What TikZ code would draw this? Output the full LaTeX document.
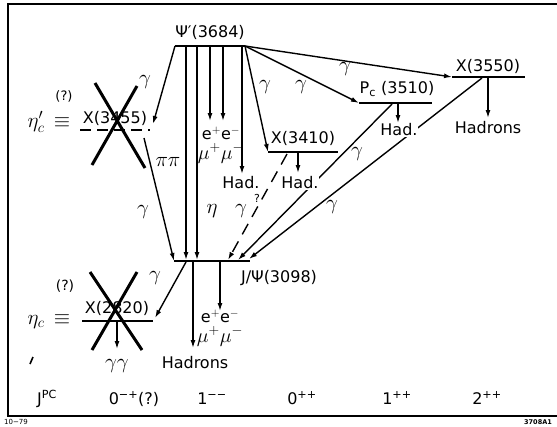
\documentclass[tikz,border=0pt]{standalone}
\usepackage{fix-cm}
\usepackage{fontspec}
\setmainfont{DejaVu Sans}
\usetikzlibrary{arrows.meta}

\begin{document}
\begin{tikzpicture}[x=1pt,y=-1pt,
		level/.style={line width=2.2pt},
		decay/.style={line width=1.4pt,-{Latex[length=8pt,width=5pt]}},
		veto/.style={line width=3pt},
		lbl/.style={inner sep=0.5pt,font=\fontsize{16}{18}\selectfont},
		greek/.style={inner sep=0.5pt,font=\fontsize{21}{22}\selectfont},
		gap/.style={lbl,fill=white}]
	\useasboundingbox (0,0) rectangle (557,426);
	% Frame
	\draw[line width=1.6pt] (557,4) -- (8,4) -- (8,416) -- (557,416);
	\node[inner sep=0pt,font=\fontsize{7}{8}\selectfont] (date) at (16,422) {10−79};
	\node[inner sep=0pt,font=\fontsize{6.5}{7}\selectfont\bfseries] (fig) at (538,422) {3708A1};

	% Levels
	\coordinate (psiL) at (175,46);  \coordinate (psiR) at (245,46);
	\coordinate (xcbL) at (452,77);  \coordinate (xcbR) at (525,77);
	\coordinate (pcL) at (359,103);  \coordinate (pcR) at (432,103);
	\coordinate (xcaL) at (268,152); \coordinate (xcaR) at (338,152);
	\coordinate (etapL) at (80,130); \coordinate (etapR) at (150,130);
	\coordinate (jpsiL) at (174,261); \coordinate (jpsiR) at (250,261);
	\coordinate (etacL) at (82,321); \coordinate (etacR) at (153,321);
	\draw[level] (psiL) -- (psiR);
	\draw[level] (xcbL) -- (xcbR);
	\draw[level] (pcL) -- (pcR);
	\draw[level] (xcaL) -- (xcaR);
	\draw[level,dash pattern=on 11pt off 6pt] (etapL) -- (etapR);
	\draw[level] (jpsiL) -- (jpsiR);
	\draw[level] (etacL) -- (etacR);

	\node[lbl] (psiT) at (210,32) {Ψ′(3684)};
	\node[lbl] (xcbT) at (488,66) {X(3550)};
	\node[lbl] (pcT) at (397,89) {P\textsubscript{c} (3510)};
	\node[lbl] (xcaT) at (303,138) {X(3410)};
	\node[lbl] (etapT) at (115,118) {X(3455)};
	\node[greek,anchor=base] (etapN) at (49,127) {$\eta_c'\,\equiv$};
	\node[lbl,font=\fontsize{13}{14}\selectfont] (etapQ) at (64,96) {(?)};
	\node[lbl] (jpsiT) at (279,278) {J/Ψ(3098)};
	\node[lbl] (etacT) at (117,308) {X(2820)};
	\node[greek,anchor=base] (etacN) at (49,324) {$\eta_c\,\equiv$};
	\node[lbl,font=\fontsize{14}{15}\selectfont] (etacQ) at (65,286) {(?)};

	% Psi' decays
	\coordinate (psiPP) at (186,46);   \coordinate (jpsiPP) at (186,260);
	\coordinate (psiEta) at (197,46);  \coordinate (jpsiEta) at (197,260);
	\coordinate (psiEa) at (210,46);   \coordinate (psiEaEnd) at (210,121);
	\coordinate (psiEb) at (223,46);   \coordinate (psiEbEnd) at (223,121);
	\coordinate (psiH) at (242,46);    \coordinate (psiHEnd) at (242,174);
	\coordinate (etapArr) at (153,124);
	\coordinate (etapOut) at (144,138);
	\draw[decay] (psiL) -- (etapArr);
	\draw[decay] (etapOut) -- (jpsiL);
	\draw[decay] (psiPP) -- (jpsiPP);
	\draw[decay] (psiEta) -- (jpsiEta);
	\draw[decay] (psiEa) -- (psiEaEnd);
	\draw[decay] (psiEb) -- (psiEbEnd);
	\draw[decay] (psiH) -- (psiHEnd);
	\draw[decay] (psiR) -- (xcaL);
	\draw[decay] (psiR) -- (pcL);
	\draw[decay] (psiR) -- (xcbL);

	% chi decays
	\coordinate (xcaH) at (298,152);  \coordinate (xcaHEnd) at (298,173);
	\coordinate (xcaG) at (287,154);  \coordinate (jpsiDa) at (228,260);
	\coordinate (pcH) at (398,103);   \coordinate (pcHEnd) at (398,123);
	\coordinate (pcG) at (392,104);   \coordinate (jpsiDb) at (238,260);
	\coordinate (xcbH) at (488,77);   \coordinate (xcbHEnd) at (488,118);
	\coordinate (xcbG) at (482,78);   \coordinate (jpsiDc) at (249,259);
	\draw[decay] (xcaH) -- (xcaHEnd);
	\draw[decay,dash pattern=on 12pt off 8pt] (xcaG) -- (jpsiDa);
	\draw[decay] (pcH) -- (pcHEnd);
	\draw[decay] (pcG) -- (jpsiDb);
	\draw[decay] (xcbH) -- (xcbHEnd);
	\draw[decay] (xcbG) -- (jpsiDc);

	% J/Psi and eta_c decays
	\coordinate (jpsiG) at (186,262);  \coordinate (etacArr) at (155,318);
	\coordinate (jpsiH) at (193,261);  \coordinate (jpsiHEnd) at (193,348);
	\coordinate (jpsiE) at (220,261);  \coordinate (jpsiEEnd) at (220,311);
	\coordinate (etacG) at (117,321);  \coordinate (etacGEnd) at (117,349);
	\draw[decay] (jpsiG) -- (etacArr);
	\draw[decay] (jpsiH) -- (jpsiHEnd);
	\draw[decay] (jpsiE) -- (jpsiEEnd);
	\draw[decay] (etacG) -- (etacGEnd);

	% Labels on the decays
	\node[greek] (gA) at (145,82) {$\gamma$};
	\node[greek] (gB) at (143,212) {$\gamma$};
	\node[greek] (pipi) at (168,162) {$\pi\pi$};
	\node[greek] (etaL) at (212,211) {$\eta$};
	\node[lbl,align=center,font=\fontsize{16}{20}\selectfont] (psiLep) at (221,145)
		{e$^+$e$^-$\\{\fontsize{20}{20}\selectfont$\mu^+\mu^-$}};
	\node[gap] (psiHad) at (241,183) {Had.};
	\node[greek] (gC) at (265,87) {$\gamma$};
	\node[greek] (gD) at (301,87) {$\gamma$};
	\node[greek] (gE) at (345,69) {$\gamma$};
	\node[gap] (xcaHad) at (300,183) {Had.};
	\node[greek] (gF) at (241,211) {$\gamma$};
	\node[lbl,font=\fontsize{11}{12}\selectfont] (gQ) at (257,198) {?};
	\node[gap] (pcHad) at (399,130) {Had.};
	\node[greek] (gG) at (357,154) {$\gamma$};
	\node[lbl] (xcbHad) at (488,128) {Hadrons};
	\node[greek] (gH) at (332,207) {$\gamma$};
	\node[greek] (gI) at (155,278) {$\gamma$};
	\node[lbl] (jpsiHad) at (195,363) {Hadrons};
	\node[lbl,align=center,font=\fontsize{16}{20}\selectfont] (jpsiLep) at (220,328)
		{e$^+$e$^-$\\{\fontsize{20}{20}\selectfont$\mu^+\mu^-$}};
	\node[greek] (etacGG) at (117,366) {$\gamma\gamma$};

	% Excluded states
	\draw[veto] (95,83) -- (145,168);
	\draw[veto] (137,86) -- (92,165);
	\draw[veto] (90,272) -- (142,350);
	\draw[veto] (137,272) -- (92,350);
	\draw[line width=1.6pt] (30,364) -- (33,357);

	% J^PC row
	\foreach \x/\jpc [count=\i] in {47/{J\textsuperscript{PC}},134/{0\textsuperscript{−+}(?)},
			212/{1\textsuperscript{−−}},302/{0\textsuperscript{++}},397/{1\textsuperscript{++}},487/{2\textsuperscript{++}}} {
			\node[lbl,anchor=base] (jpc\i) at (\x,404) {\jpc};
		}
\end{tikzpicture}
\end{document}
